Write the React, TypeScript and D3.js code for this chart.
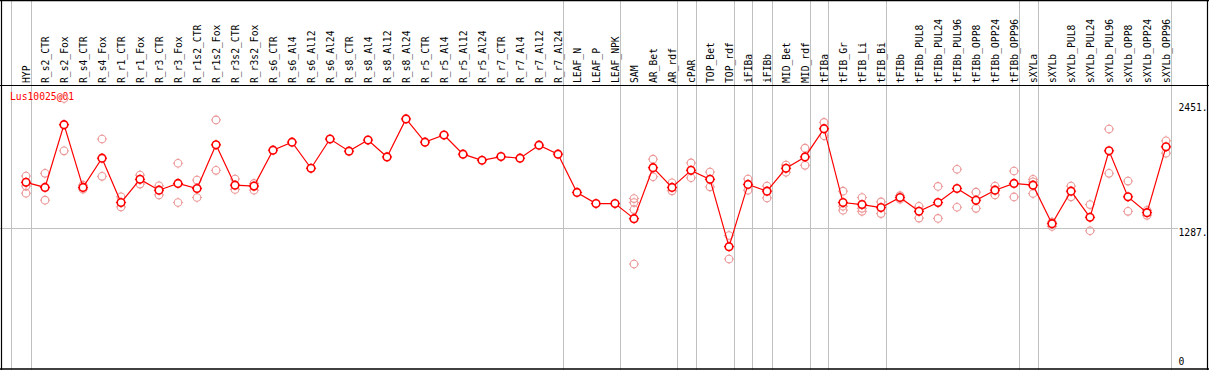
import * as d3 from "d3";

const probeName = "Lus10025@01";

const categories = [
  "HYP", "R_s2_CTR", "R_s2_Fox", "R_s4_CTR", "R_s4_Fox", "R_r1_CTR", "R_r1_Fox",
  "R_r3_CTR", "R_r3_Fox", "R_r1s2_CTR", "R_r1s2_Fox", "R_r3s2_CTR", "R_r3s2_Fox",
  "R_s6_CTR", "R_s6_Al4", "R_s6_Al12", "R_s6_Al24", "R_s8_CTR", "R_s8_Al4",
  "R_s8_Al12", "R_s8_Al24", "R_r5_CTR", "R_r5_Al4", "R_r5_Al12", "R_r5_Al24",
  "R_r7_CTR", "R_r7_Al4", "R_r7_Al12", "R_r7_Al24", "LEAF_N", "LEAF_P", "LEAF_NPK",
  "SAM", "AR_Bet", "AR_rdf", "cPAR", "TOP_Bet", "TOP_rdf", "iFIBa", "iFIBb",
  "MID_Bet", "MID_rdf", "tFIBa", "tFIB_Gr", "tFIB_Li", "tFIB_Bi", "tFIBb",
  "tFIBb_PUL8", "tFIBb_PUL24", "tFIBb_PUL96", "tFIBb_OPP8", "tFIBb_OPP24",
  "tFIBb_OPP96", "sXYLa", "sXYLb", "sXYLb_PUL8", "sXYLb_PUL24", "sXYLb_PUL96",
  "sXYLb_OPP8", "sXYLb_OPP24", "sXYLb_OPP96",
];

// mean expression per sample (red line)
const means = [
  1716, 1669, 2254, 1669, 1941, 1528, 1744, 1643, 1706, 1659, 2066, 1690, 1681,
  2016, 2091, 1847, 2120, 2007, 2110, 1953, 2307, 2091, 2157, 1979, 1922,
  1956, 1941, 2063, 1979, 1622, 1518, 1518,
  1378, 1853, 1669, 1828, 1744, 1117, 1697, 1634, 1847, 1953, 2216,
  1528, 1509, 1481, 1575, 1446, 1528, 1659, 1549, 1643, 1706,
  1690, 1331, 1634, 1390, 2010, 1581, 1434, 2047,
];

// individual replicates (pink circles)
const replicates: number[][] = [
  [1775, 1681, 1615], [1800, 1550], [2498, 2010], [1690, 1653], [2120, 1772],
  [1581, 1487], [1784, 1700], [1684, 1599], [1894, 1528], [1737, 1575],
  [2298, 1828], [1747, 1650], [1706, 1643],
  [], [], [], [], [], [], [], [], [], [], [], [], [], [], [], [],
  [], [], [],
  [1565, 1528, 1462, 955], [1932, 1768], [1712, 1637], [1897, 1759],
  [1812, 1674], [1221, 1002], [1747, 1643], [1681, 1571], [1878, 1810],
  [2035, 1875], [2275, 2150],
  [1634, 1493, 1456], [1575, 1474, 1446], [1534, 1425], [1592, 1559],
  [1493, 1383], [1678, 1380], [1838, 1484], [1625, 1474], [1681, 1599],
  [1822, 1580],
  [1744, 1721, 1612], [1346, 1305], [1681, 1581], [1509, 1265], [2213, 1800],
  [1728, 1446], [1456, 1409], [2104, 1988],
];

// group separators drawn after these sample indices
const separatorsAfter = [-1, 0, 28, 31, 34, 35, 37, 38, 39, 41, 42, 45, 52, 53, 60];
const axisTicks = [2451, 1287, 0];
const refValue = 1287;

const FONT = "'DejaVu Sans Mono', monospace";

function Marker({ cx, cy, color, width, fill }: { cx: number; cy: number; color: string; width: number; fill: string }) {
  const r = 3.8;
  const t = 1.3;
  return (
    <g stroke={color}>
      <circle cx={cx} cy={cy} r={r} fill={fill} strokeWidth={width} />
      <g strokeWidth={1}>
        <line x1={cx} x2={cx} y1={cy - r - t} y2={cy - r} />
        <line x1={cx} x2={cx} y1={cy + r} y2={cy + r + t} />
        <line x1={cx - r - t} x2={cx - r} y1={cy} y2={cy} />
        <line x1={cx + r} x2={cx + r + t} y1={cy} y2={cy} />
      </g>
    </g>
  );
}

export default function App() {
  const width = 1209;
  const height = 370;
  const headerY = 85.5;
  const plotRight = 1170;

  const x = d3.scaleLinear().domain([0, categories.length - 1]).range([26, 1166]);
  const y = d3.scaleLinear().domain([0, 2451]).range([366.5, 103.5]);

  const path = d3
    .line<number>()
    .x((_, i) => x(i))
    .y((d) => y(d))(means);

  return (
    <svg
      width={width}
      height={height}
      style={{ position: "absolute", left: 0, top: 0, background: "#fff" }}
      fontFamily={FONT}
    >
      {/* separators */}
      {separatorsAfter.map((i) => {
        const sx = Math.round(x(i) + 4.5) + 0.5;
        return <line key={i} x1={sx} x2={sx} y1={0} y2={height} stroke="#c0c0c0" strokeWidth={1} />;
      })}

      {/* reference line */}
      <line
        x1={0}
        x2={1178}
        y1={Math.round(y(refValue)) + 0.5}
        y2={Math.round(y(refValue)) + 0.5}
        stroke="#c0c0c0"
        strokeWidth={1}
      />

      {/* frame */}
      <line x1={0} x2={width} y1={headerY} y2={headerY} stroke="#000" strokeWidth={1.2} />
      <line x1={0} x2={width} y1={0.5} y2={0.5} stroke="#000" strokeWidth={1.5} />
      <line x1={1.5} x2={1.5} y1={0} y2={height} stroke="#000" strokeWidth={1.2} />
      <line x1={1207.5} x2={1207.5} y1={0} y2={height} stroke="#000" strokeWidth={1.2} />
      <line x1={0} x2={width} y1={369} y2={369} stroke="#000" strokeWidth={1.5} />

      {/* sample labels */}
      {categories.map((c, i) => (
        <text
          key={c}
          transform={`translate(${x(i) + 3.6},83) rotate(-90)`}
          fontSize={9.7}
          fill="#000"
        >
          {c}
        </text>
      ))}

      {/* right axis */}
      {axisTicks.map((t) => (
        <text key={t} x={plotRight + 8.5} y={Math.min(y(t) + 7.7, 365)} fontSize={9.7} fill="#000">
          {t === 0 ? "0" : `${t}.`}
        </text>
      ))}

      <text x={10} y={100} fontSize={9.7} fill="#ff0000">
        {probeName}
      </text>

      {/* replicates */}
      {replicates.map((reps, i) =>
        reps.map((v, j) => (
          <Marker key={`${i}-${j}`} cx={x(i)} cy={y(v)} color="#ec9898" width={1.1} fill="none" />
        ))
      )}

      {/* mean line */}
      <path d={path ?? ""} fill="none" stroke="#ff0000" strokeWidth={1.2} />
      {means.map((v, i) => (
        <Marker key={i} cx={x(i)} cy={y(v)} color="#ff0000" width={1.6} fill="#fff" />
      ))}
    </svg>
  );
}
